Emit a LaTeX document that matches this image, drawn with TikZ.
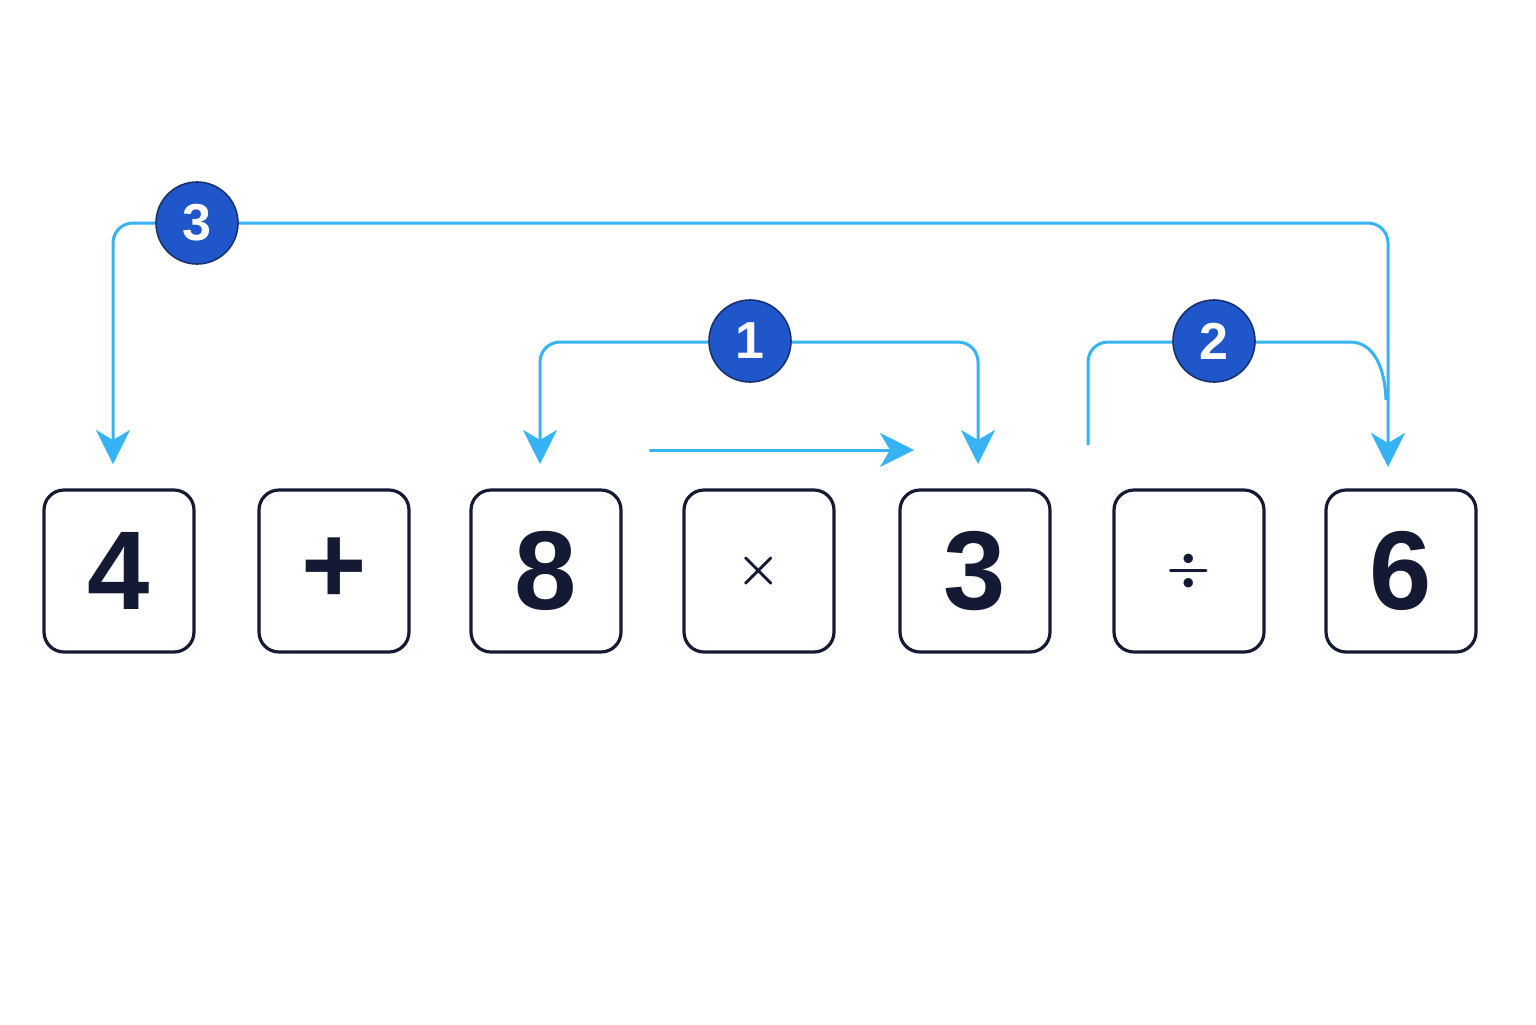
\documentclass[tikz,border=0pt]{standalone}
\usepackage{amsmath}
\usepackage{fontspec}
\setmainfont{Liberation Sans}
\usetikzlibrary{arrows.meta}
\definecolor{navy}{HTML}{141A33}
\definecolor{sky}{HTML}{35B3F5}
\definecolor{badge}{HTML}{1F56C9}
\begin{document}
\begin{tikzpicture}[x=0.5pt,y=-0.5pt,
  box/.style={draw=navy,line width=1.6pt,rounded corners=10pt,minimum width=75pt,minimum height=81pt,inner sep=0pt,font=\fontsize{56}{56}\selectfont\bfseries,text=navy},
  num/.style={circle,fill=badge,draw=navy!60!badge,line width=0.8pt,minimum size=41pt,inner sep=0pt,text=white,font=\fontsize{26}{26}\selectfont\bfseries},
  link/.style={draw=sky,line width=1.5pt,rounded corners=10pt},
  tip/.style={-{Stealth[length=17pt,width=17pt,inset=5pt]}}]
\useasboundingbox (0,0) rectangle (1536,1024);
\node[box] (b4) at (119,571) {4};
\node[box] (bp) at (334,571) {+};
\node[box] (b8) at (546,571) {8};
\node[box] (bx) at (759,571) {$\boldsymbol{\times}$};
\node[box] (b3) at (975,571) {3};
\node[box] (bd) at (1189,571) {$\boldsymbol{\div}$};
\node[box] (b6) at (1401,571) {6};
\coordinate (t4) at (113,464);
\coordinate (t8) at (540,464);
\coordinate (t3) at (978,464);
\coordinate (t6) at (1388,467);
\coordinate (s2) at (1088,445);
\coordinate (h1) at (650,450);
\coordinate (h2) at (914,450);
\draw[link,tip] (197,223) -| (t4);
\draw[link,tip] (197,223) -| (t6);
\draw[link,tip] (750,342) -| (t8);
\draw[link,tip] (750,342) -| (t3);
\draw[link] (s2) |- (1214,342);
\draw[draw=sky,line width=1.5pt] (1214,342) -- (1350,342) .. controls (1375,342) and (1385,370) .. (1386,400);
\draw[link,tip,line cap=round] (h1) -- (h2);
\node[num] (n3) at (197,223) {3};
\node[num] (n1) at (750,341) {1};
\node[num] (n2) at (1214,341) {2};
\end{tikzpicture}
\end{document}
